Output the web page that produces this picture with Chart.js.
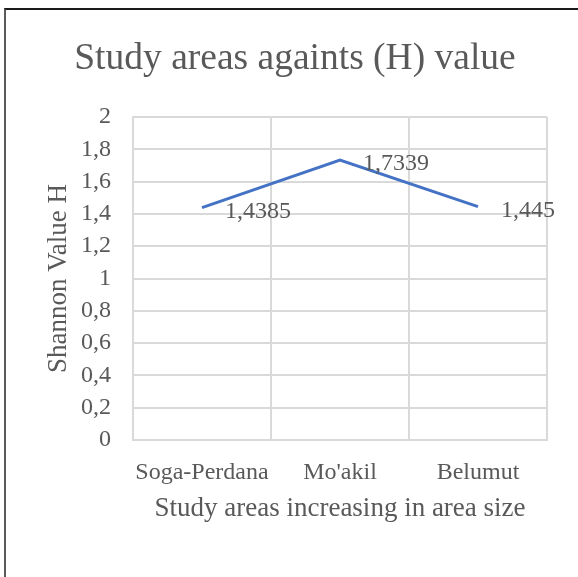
<!DOCTYPE html>
<html>
<head>
<meta charset="utf-8">
<script src="https://cdn.jsdelivr.net/npm/chart.js@4.4.1/dist/chart.umd.min.js"></script>
<style>
  html, body { margin: 0; padding: 0; background: #fff; }
  #wrap { position: relative; width: 578px; height: 577px; overflow: hidden; }
  #frame { position: absolute; left: 4px; top: 8px; width: 600px; height: 600px;
           border-top: 2px solid #1a1a1a; border-left: 2px solid #5a5a5a; }
  canvas { position: absolute; left: 0; top: 0; }
</style>
</head>
<body>
<div id="wrap">
  <div id="frame"></div>
  <canvas id="shannonChart" width="578" height="577"></canvas>
</div>
<script>
// Data
const areas = ["Soga-Perdana", "Mo'akil", "Belumut"];
const shannonH = [1.4385, 1.7339, 1.445];
const yMin = 0, yMax = 2, yStep = 0.2;

const serif = "'Liberation Serif', 'Times New Roman', serif";
const textGrey = '#595959';
const gridGrey = '#d9d9d9';

// comma decimals like the original
function fmt(v) {
  return String(Math.round(v * 10000) / 10000).replace('.', ',');
}

// simple value labels to the right of each point
const valueLabels = {
  id: 'valueLabels',
  afterDatasetsDraw(chart) {
    const ctx = chart.ctx;
    const meta = chart.getDatasetMeta(0);
    ctx.save();
    ctx.font = '24px ' + serif;
    ctx.fillStyle = textGrey;
    ctx.textAlign = 'left';
    ctx.textBaseline = 'alphabetic';
    meta.data.forEach((pt, i) => {
      ctx.fillText(fmt(chart.data.datasets[0].data[i]), pt.x + 23, pt.y + 10);
    });
    ctx.restore();
  }
};

const ctx = document.getElementById('shannonChart').getContext('2d');
new Chart(ctx, {
  type: 'line',
  data: {
    labels: areas,
    datasets: [{
      label: 'H',
      data: shannonH,
      borderColor: '#4472C4',
      borderWidth: 3,
      pointRadius: 0,
      tension: 0,
      fill: false
    }]
  },
  options: {
    responsive: false,
    animation: false,
    layout: { padding: { left: 43, right: 31, top: 0, bottom: 0 } },
    plugins: {
      legend: { display: false },
      tooltip: { enabled: false },
      title: {
        display: true,
        text: 'Study areas againts (H) value',
        color: textGrey,
        font: { family: serif, size: 37.5, weight: 'normal' },
        padding: { top: 37, bottom: 35 }
      }
    },
    scales: {
      x: {
        offset: true,
        grid: { offset: true, color: gridGrey, lineWidth: 2, drawTicks: false },
        border: { color: gridGrey, width: 2 },
        ticks: { color: textGrey, font: { family: serif, size: 24 }, padding: 18, maxRotation: 0 },
        title: {
          display: true,
          text: 'Study areas increasing in area size',
          color: textGrey,
          font: { family: serif, size: 27 },
          padding: { top: 0, bottom: 52 }
        },
        afterFit(scale) { scale.height = 137; }
      },
      y: {
        min: yMin,
        max: yMax,
        grid: { color: gridGrey, lineWidth: 2, drawTicks: false },
        border: { color: gridGrey, width: 2 },
        ticks: {
          stepSize: yStep,
          color: textGrey,
          font: { family: serif, size: 24 },
          padding: 22,
          callback: v => fmt(Math.round(v * 10) / 10)
        },
        title: {
          display: true,
          text: 'Shannon Value H',
          color: textGrey,
          font: { family: serif, size: 27 },
          padding: { top: 0, bottom: 0 }
        },
        afterFit(scale) { scale.width = 90; }
      }
    }
  },
  plugins: [valueLabels]
});
</script>
</body>
</html>
